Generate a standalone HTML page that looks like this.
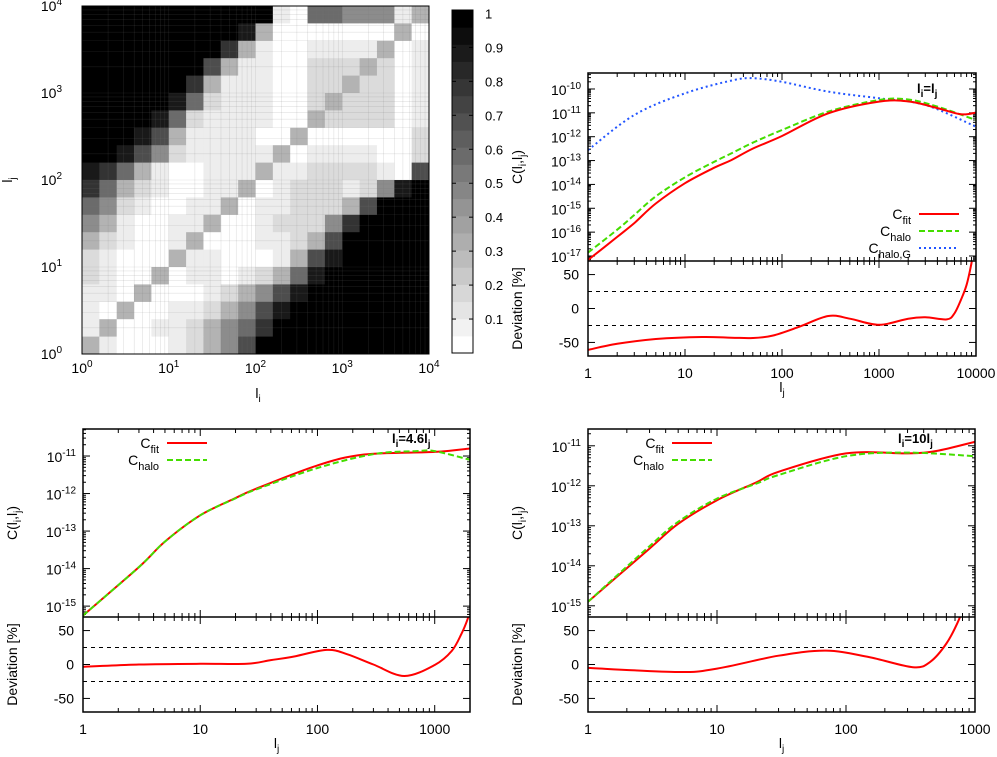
<!DOCTYPE html>
<html><head><meta charset="utf-8"><style>
body{margin:0;background:#fff}
svg{display:block;font-family:"Liberation Sans",sans-serif}
</style></head><body>
<svg id="fig" width="997" height="757" viewBox="0 0 997 757" xmlns="http://www.w3.org/2000/svg"></svg>
<script>
// ---------- DATA ----------
// heatmap rows (top = high l_j), digit levels 0..9
const heatRows = [
"99999999999105544413",
"99999999983000000030",
"99999999731001111301",
"99999996311002223201",
"99999973111002232201",
"99999852111002322201",
"99998521111003222201",
"99986311110030000002",
"99864211111301111002",
"87531001113112222106",
"75321001130122212489",
"54210011301122236999",
"43100113001222479999",
"32100130001123699999",
"21000311000136899999",
"21003011012358999999",
"11030001234689999999",
"10300112346899999999",
"13001123457999999999",
"31000123469999999999"];
// correlation value for each digit level
const levelValues = [0,0.07,0.14,0.3,0.45,0.58,0.7,0.8,0.9,1];
const cbTicks = [0.1,0.2,0.3,0.4,0.5,0.6,0.7,0.8,0.9,1];

// top-right panel: l_i = l_j
const trFitL = [1,2,3,5,10,20,30,50,100,300,1000,2000,4000,7000,10000];
const trFitV = [-17.17,-16.2,-15.62,-14.8,-13.95,-13.3,-12.98,-12.5,-11.97,-11.02,-10.53,-10.52,-10.8,-11.06,-10.99];
const trHaloL = [1,2,3,5,10,20,30,50,100,300,1000,2000,4000,10000];
const trHaloV = [-16.86,-15.9,-15.28,-14.5,-13.7,-13.05,-12.7,-12.25,-11.72,-10.95,-10.46,-10.44,-10.74,-11.3];
const trGL = [1,3,10,30,50,100,300,1000,3000,10000];
const trGV = [-12.56,-11.09,-10.18,-9.65,-9.55,-9.7,-10.11,-10.39,-10.67,-11.58];
const trDevL = [1,2,5,15,30,50,80,150,300,500,1000,2000,3000,5000,6000,7000,8000,9000,9500];
const trDevV = [-61,-52,-45,-42,-43,-43.5,-40,-27,-11,-15,-24,-15,-13,-16,-7,13,35,68,90];

// bottom-left panel: l_i = 4.6 l_j
const blFitL = [1,3,5,10,20,30,100,250,1000,2000];
const blFitV = [-15.25,-13.96,-13.28,-12.58,-12.12,-11.87,-11.25,-10.96,-10.89,-10.8];
const blHaloL = [1,3,5,10,20,30,100,300,700,1000,2000];
const blHaloV = [-15.25,-13.96,-13.28,-12.58,-12.13,-11.89,-11.32,-10.95,-10.87,-10.87,-11.1];
const blDevL = [1,3,10,25,40,60,120,180,300,550,1000,1400,1700,1900,2000];
const blDevV = [-3.4,0,1,1,6.5,11,21.5,15,0,-17,-0.7,20,46,66,80];

// bottom-right panel: l_i = 10 l_j
const brFitL = [1,3,5,10,20,30,100,300,500,1000];
const brFitV = [-14.9,-13.57,-12.95,-12.36,-11.92,-11.65,-11.19,-11.19,-11.13,-10.9];
const brHaloL = [1,3,5,10,20,30,100,300,1000];
const brHaloV = [-14.9,-13.51,-12.9,-12.32,-11.95,-11.73,-11.26,-11.17,-11.26];
const brDevL = [1,5,10,30,70,150,330,450,600,750,800];
const brDevV = [-5,-11,-6,13,20.5,11,-4,4,31,66,85];

// ---------- DRAW ----------
const NS="http://www.w3.org/2000/svg";
const svg=document.getElementById('fig');
function el(tag,attrs,parent){const e=document.createElementNS(NS,tag);for(const k in attrs)e.setAttribute(k,attrs[k]);(parent||svg).appendChild(e);return e;}
function txt(x,y,s,size,anchor,parent,extra){const t=el('text',Object.assign({x:x,y:y,'font-size':size,'text-anchor':anchor||'middle',fill:'#000'},extra||{}),parent);t.textContent=s;return t;}
function pow10(x,y,e,anchor,parent){const t=el('text',{x:x,y:y,'font-size':14,'text-anchor':anchor,fill:'#000'},parent);const a=el('tspan',{},t);a.textContent='10';const b=el('tspan',{dy:-6,'font-size':10},t);b.textContent=e;return t;}
function catmull(pts){let d='M'+pts[0][0].toFixed(1)+','+pts[0][1].toFixed(1);for(let i=0;i<pts.length-1;i++){const p0=pts[Math.max(0,i-1)],p1=pts[i],p2=pts[i+1],p3=pts[Math.min(pts.length-1,i+2)];const c1=[p1[0]+(p2[0]-p0[0])/6,p1[1]+(p2[1]-p0[1])/6],c2=[p2[0]-(p3[0]-p1[0])/6,p2[1]-(p3[1]-p1[1])/6];d+='C'+c1[0].toFixed(1)+','+c1[1].toFixed(1)+' '+c2[0].toFixed(1)+','+c2[1].toFixed(1)+' '+p2[0].toFixed(1)+','+p2[1].toFixed(1);}return d;}

// Heatmap
const hm={x0:82,x1:429,y0:6,y1:354};
const hg=el('g',{});


const cw=(hm.x1-hm.x0)/20, ch=(hm.y1-hm.y0)/20;
function hx(u){return hm.x0+u/4*(hm.x1-hm.x0);}
function hy(v){return hm.y1-v/4*(hm.y1-hm.y0);}
heatRows.forEach((row,r)=>{for(let i=0;i<row.length;i++){const val=levelValues[+row[i]];const g=Math.round(255*(1-val));const c=el('rect',{x:(hm.x0+i*cw).toFixed(2),y:(hm.y0+r*ch).toFixed(2),width:(cw+0.4).toFixed(2),height:(ch+0.4).toFixed(2),fill:`rgb(${g},${g},${g})`},hg);

}});
for(let k=0;k<4;k++)for(let m=1;m<=9;m++){const u=k+Math.log10(m);if(u<=0)continue;el('line',{x1:hx(u),x2:hx(u),y1:hm.y0,y2:hm.y1,stroke:'#777','stroke-width':0.6,opacity:0.22},hg);el('line',{y1:hy(u),y2:hy(u),x1:hm.x0,x2:hm.x1,stroke:'#777','stroke-width':0.6,opacity:0.22},hg);}
el('rect',{x:hm.x0,y:hm.y0,width:hm.x1-hm.x0,height:hm.y1-hm.y0,fill:'none',stroke:'#000','stroke-width':1},hg);
for(let k=0;k<=4;k++){pow10(hx(k),373,String(k),'middle',hg);pow10(62,hy(k)+5,String(k),'end',hg);}
const hxl=txt(258,398,'l',14,'middle',hg);const hs=el('tspan',{dy:4,'font-size':10},hxl);hs.textContent='i';

const hyl=txt(0,0,'l',14,'middle',hg,{transform:'translate(12,180) rotate(-90)'});const hs2=el('tspan',{dy:4,'font-size':10},hyl);hs2.textContent='j';


// colorbar
const cb={x0:452,x1:473,y0:10,y1:353};
const cbg=el('g',{});


const cbY=v=>cb.y1-v*(cb.y1-cb.y0);
for(let s=0;s<20;s++){const g=Math.round(255*(1-s/19));el('rect',{x:cb.x0,y:cbY((s+1)/20),width:cb.x1-cb.x0,height:(cb.y1-cb.y0)/20+0.5,fill:`rgb(${g},${g},${g})`},cbg);}
el('rect',{x:cb.x0,y:cb.y0,width:cb.x1-cb.x0,height:cb.y1-cb.y0,fill:'none',stroke:'#000','stroke-width':1},cbg);
cbTicks.forEach(t=>{const y=cbY(t*0.99);el('line',{x1:cb.x0,x2:cb.x0+4,y1:y,y2:y,stroke:'#000'},cbg);el('line',{x1:cb.x1-4,x2:cb.x1,y1:y,y2:y,stroke:'#000'},cbg);const lb=txt(485,y+5,String(t),13,'start',cbg);
});

// line panels
function panel(o){
  const g=el('g',{});
  
  
  const lx=l=>o.x0+Math.log10(l)/o.lmax*(o.x1-o.x0);
  const cy=v=>o.top+(o.cTop-v)/(o.cTop-o.cBot)*(o.mid-o.top);
  const dy=v=>o.mid+(70-v)/140*(o.bot-o.mid);
  const cid='clip'+o.name;
  const cp=el('clipPath',{id:cid},g);el('rect',{x:o.x0,y:o.top,width:o.x1-o.x0,height:o.mid-o.top},cp);
  const cid2='clipd'+o.name;
  const cp2=el('clipPath',{id:cid2},g);el('rect',{x:o.x0,y:o.mid,width:o.x1-o.x0,height:o.bot-o.mid},cp2);
  for(let k=0;k<=Math.ceil(o.lmax);k++)for(let m=1;m<=9;m++){const l=Math.pow(10,k)*m;if(Math.log10(l)>o.lmax+1e-9)continue;const x=lx(l);const len=m===1?7:4;
    [o.top,o.mid].forEach(y=>el('line',{x1:x,x2:x,y1:y,y2:y+len,stroke:'#000'},g));
    [o.mid,o.bot].forEach(y=>el('line',{x1:x,x2:x,y1:y,y2:y-len,stroke:'#000'},g));
    if(m===1){const lb=txt(x,o.bot+22,String(l),14,'middle',g);}}
  for(let e=Math.ceil(o.cBot);e<=Math.floor(o.cTop);e++){for(let m=1;m<=9;m++){const v=e+Math.log10(m);if(v>o.cTop)continue;const y=cy(v);const len=m===1?7:3;el('line',{x1:o.x0,x2:o.x0+len,y1:y,y2:y,stroke:'#000'},g);el('line',{x1:o.x1-len,x2:o.x1,y1:y,y2:y,stroke:'#000'},g);}
    const lb=pow10(o.x0-7,cy(e)+6,String(e),'end',g);}
  for(let m=2;m<=9;m++){const v=Math.floor(o.cBot)+Math.log10(m);if(v<o.cBot)continue;const y=cy(v);el('line',{x1:o.x0,x2:o.x0+3,y1:y,y2:y,stroke:'#000'},g);el('line',{x1:o.x1-3,x2:o.x1,y1:y,y2:y,stroke:'#000'},g);}
  [-50,0,50].forEach(v=>{const y=dy(v);el('line',{x1:o.x0,x2:o.x0+7,y1:y,y2:y,stroke:'#000'},g);el('line',{x1:o.x1-7,x2:o.x1,y1:y,y2:y,stroke:'#000'},g);const lb=txt(o.x0-9,y+5,String(v),14,'end',g);});
  [25,-25].forEach(v=>{const ln=el('line',{x1:o.x0,x2:o.x1,y1:dy(v),y2:dy(v),stroke:'#000','stroke-width':1,'stroke-dasharray':'4,4'},g);});
  o.series.forEach(s=>{const pts=s.L.map((l,i)=>[lx(l),cy(s.V[i])]);const p=el('path',{d:catmull(pts),fill:'none',stroke:s.color,'stroke-width':s.w||2,'stroke-dasharray':s.dash||'none','clip-path':`url(#${cid})`},g);
    });
  const dpts=o.devL.map((l,i)=>[lx(l),dy(o.devV[i])]);
  const dp=el('path',{d:catmull(dpts),fill:'none',stroke:'#f00','stroke-width':2,'clip-path':`url(#${cid2})`},g);
  
  el('rect',{x:o.x0,y:o.top,width:o.x1-o.x0,height:o.bot-o.top,fill:'none',stroke:'#000','stroke-width':1.5},g);
  el('line',{x1:o.x0,x2:o.x1,y1:o.mid,y2:o.mid,stroke:'#000','stroke-width':1.5},g);
  const cx=o.x0-66, cyc=(o.top+o.mid)/2;
  const ct=el('text',{x:0,y:0,'font-size':14,'text-anchor':'middle',transform:`translate(${cx},${cyc}) rotate(-90)`},g);
  
  [['C(l',0],['i',4],[',l',-4],['j',4],[')',-4]].forEach(([s,d])=>{const t=el('tspan',{dy:d,'font-size':d>0?10:14},ct);t.textContent=s;});
  const dt=txt(0,0,'Deviation [%]',14,'middle',g,{transform:`translate(${cx},${(o.mid+o.bot)/2}) rotate(-90)`});
  
  const xt=txt((o.x0+o.x1)/2,o.bot+36,'l',14,'middle',g);const xs=el('tspan',{dy:4,'font-size':10},xt);xs.textContent='j';
  
  const lab=el('text',{x:o.labX,y:o.labY,'font-size':13,'font-weight':'bold','text-anchor':'start'},g);
  
  [['l',0],['i',4],['=',-4],[o.labMid+'l',0],['j',4]].forEach(([s,d])=>{const t=el('tspan',{dy:d,'font-size':d>0?10:13},lab);t.textContent=s;});
  o.legend.forEach((e,i)=>{const y=o.legY+i*17;const lt=el('text',{x:o.legX,y:y+5,'font-size':14,'text-anchor':'end'},g);
    
    const a=el('tspan',{},lt);a.textContent='C';const b=el('tspan',{dy:5,'font-size':11},lt);b.textContent=e.sub;
    const ln=el('line',{x1:o.legX+8,x2:o.legX+48,y1:y,y2:y,stroke:e.color,'stroke-width':2,'stroke-dasharray':e.dash||'none'},g);
    });
}
panel({name:'panel-equal-l',x0:588,x1:976,top:73,mid:261,bot:356,lmax:4,cTop:-9.33,cBot:-17.21,
  series:[{name:'c-halo-g-curve',L:trGL,V:trGV,color:'#2255ff',dash:'2,3'},{name:'c-halo-curve',L:trHaloL,V:trHaloV,color:'#44dd00',dash:'6,3'},{name:'c-fit-curve',L:trFitL,V:trFitV,color:'#f00'}],
  devL:trDevL,devV:trDevV,labX:917,labY:93,labMid:'',
  legX:911,legY:214,legend:[{sub:'fit',color:'#f00'},{sub:'halo',color:'#44dd00',dash:'6,3'},{sub:'halo,G',color:'#2255ff',dash:'2,3'}]});
panel({name:'panel-4-6-l',x0:83,x1:470,top:429,mid:617,bot:712,lmax:Math.log10(2000),cTop:-10.28,cBot:-15.29,
  series:[{name:'c-fit-curve',L:blFitL,V:blFitV,color:'#f00'},{name:'c-halo-curve',L:blHaloL,V:blHaloV,color:'#44dd00',dash:'6,3'}],
  devL:blDevL,devV:blDevV,labX:392,labY:443,labMid:'4.6',
  legX:159,legY:443,legend:[{sub:'fit',color:'#f00'},{sub:'halo',color:'#44dd00',dash:'6,3'}]});
panel({name:'panel-10-l',x0:588,x1:975,top:429,mid:617,bot:712,lmax:3,cTop:-10.58,cBot:-15.28,
  series:[{name:'c-fit-curve',L:brFitL,V:brFitV,color:'#f00'},{name:'c-halo-curve',L:brHaloL,V:brHaloV,color:'#44dd00',dash:'6,3'}],
  devL:brDevL,devV:brDevV,labX:898,labY:443,labMid:'10',
  legX:664,legY:443,legend:[{sub:'fit',color:'#f00'},{sub:'halo',color:'#44dd00',dash:'6,3'}]});
</script>
</body></html>
